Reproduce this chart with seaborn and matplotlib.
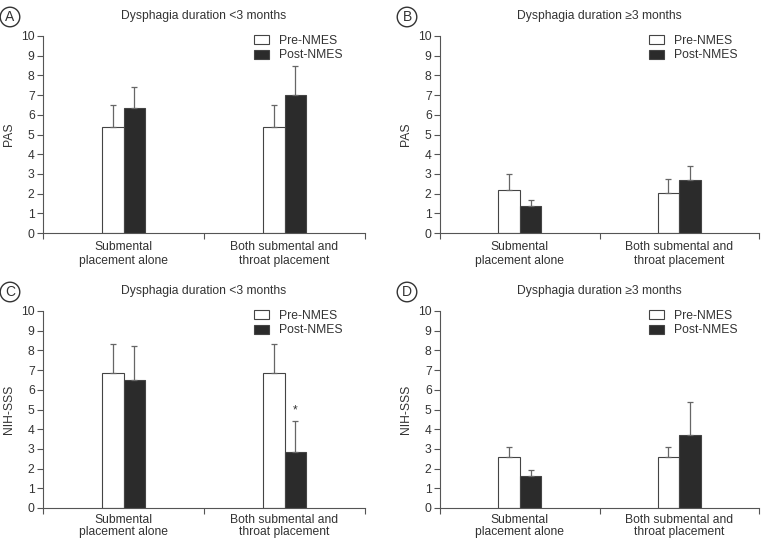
import numpy as np
import pandas as pd
import matplotlib.pyplot as plt
import seaborn as sns

# 기본 스타일
sns.set_theme(style="ticks")
plt.rcParams['font.family'] = ['Liberation Sans', 'DejaVu Sans']
plt.rcParams['font.size'] = 8.7

# 데이터
groups = ["Submental\nplacement alone", "Both submental and\nthroat placement"]
phases = ["Pre-NMES", "Post-NMES"]

pas_short_pre = [5.4, 5.4]
pas_short_pre_sd = [1.1, 1.1]
pas_short_post = [6.35, 7.0]
pas_short_post_sd = [1.05, 1.5]

pas_long_pre = [2.2, 2.05]
pas_long_pre_sd = [0.8, 0.7]
pas_long_post = [1.35, 2.7]
pas_long_post_sd = [0.35, 0.7]

nih_short_pre = [6.85, 6.85]
nih_short_pre_sd = [1.45, 1.45]
nih_short_post = [6.5, 2.85]
nih_short_post_sd = [1.7, 1.55]

nih_long_pre = [2.6, 2.6]
nih_long_pre_sd = [0.5, 0.5]
nih_long_post = [1.6, 3.7]
nih_long_post_sd = [0.35, 1.7]

panels = [
    ("A", "Dysphagia duration <3 months", "PAS",
     pas_short_pre, pas_short_pre_sd, pas_short_post, pas_short_post_sd, None),
    ("B", "Dysphagia duration \u22653 months", "PAS",
     pas_long_pre, pas_long_pre_sd, pas_long_post, pas_long_post_sd, None),
    ("C", "Dysphagia duration <3 months", "NIH-SSS",
     nih_short_pre, nih_short_pre_sd, nih_short_post, nih_short_post_sd, 1),
    ("D", "Dysphagia duration \u22653 months", "NIH-SSS",
     nih_long_pre, nih_long_pre_sd, nih_long_post, nih_long_post_sd, None),
]

# 축 위치 (픽셀 -> figure 비율)
W, H = 764, 542
boxes = [
    (43, 365, 36, 233),
    (440, 759, 36, 233),
    (43, 365, 311, 508),
    (440, 759, 311, 508),
]

fig = plt.figure(figsize=(7.64, 5.42), dpi=100)
fig.patch.set_facecolor("white")

line_col = "#555555"
text_col = "#333333"
dark = "#2b2b2b"

for i, ((letter, title, ylab, pre, pre_sd, post, post_sd, star), (x0, x1, y0, y1)) in enumerate(zip(panels, boxes)):
    ax = fig.add_axes([x0 / W, 1 - y1 / H, (x1 - x0) / W, (y1 - y0) / H])
    df = pd.DataFrame({
        "group": groups * 2,
        "phase": [phases[0]] * 2 + [phases[1]] * 2,
        "value": pre + post,
    })
    sns.barplot(data=df, x="group", y="value", hue="phase", order=groups, hue_order=phases,
                palette={phases[0]: "white", phases[1]: dark}, edgecolor="#444444",
                linewidth=0.8, width=0.27, errorbar=None, legend=False, ax=ax)

    # 위쪽 방향 오차막대
    for cont, sds in zip(ax.containers, [pre_sd, post_sd]):
        for bar, sd in zip(cont, sds):
            cx = bar.get_x() + bar.get_width() / 2
            ax.errorbar(cx, bar.get_height(), yerr=[[0], [sd]], color="#666666",
                        lw=0.9, capsize=2.2, capthick=0.9)
        if star is not None and cont is ax.containers[1]:
            bar = cont[star]
            ax.text(bar.get_x() + bar.get_width() / 2,
                    bar.get_height() + sds[star] + 0.25, "*",
                    ha="center", va="bottom", fontsize=8.7, color=text_col)

    ax.set_xlim(-0.5, 1.5)
    ax.set_ylim(0, 10)
    ax.set_yticks(range(0, 11))
    ax.set_xticks([-0.5, 0.5, 1.5], minor=True)
    ax.tick_params(axis="x", which="major", length=0, pad=6 if i < 2 else 4)
    ax.tick_params(axis="x", which="minor", length=4, width=0.8, color=line_col, direction="out")
    ax.tick_params(axis="y", length=4, width=0.8, color=line_col, direction="out", pad=2)
    ax.tick_params(labelsize=8.7, labelcolor=text_col)
    for lab in ax.get_xticklabels():
        lab.set_linespacing(1.15 if i < 2 else 1.05)
    sns.despine(ax=ax)
    for s in ["left", "bottom"]:
        ax.spines[s].set_color(line_col)
        ax.spines[s].set_linewidth(0.8)
    ax.set_xlabel("")
    ax.set_ylabel(ylab, fontsize=8.7, color=text_col, labelpad=4)
    ax.set_title(title, fontsize=8.7, color=text_col, pad=12)

    ax.legend(ax.containers, phases, loc="upper left", bbox_to_anchor=(0.62, 1.06),
              frameon=False, fontsize=8.7, handlelength=1.3, handleheight=0.75,
              handletextpad=0.8, labelspacing=0.2, labelcolor=text_col)

    # 패널 문자 (원)
    fig.text((x0 - 33) / W, 1 - (y0 - 19) / H, letter, ha="center", va="center",
             fontsize=10, color=text_col,
             bbox=dict(boxstyle="circle,pad=0.2", fc="white", ec=text_col, lw=1.0))

plt.savefig("out.png", dpi=100, facecolor="white")
